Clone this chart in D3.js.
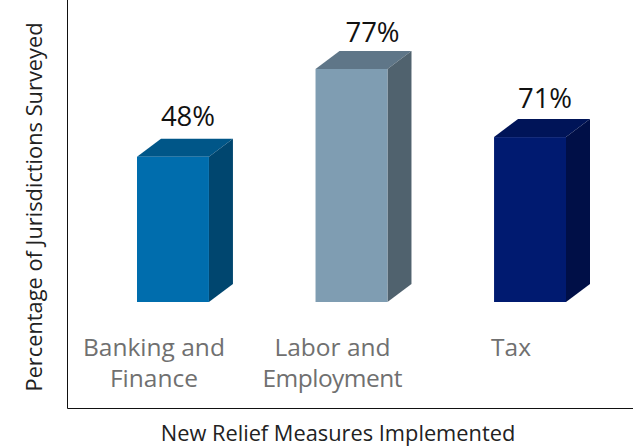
<!DOCTYPE html>
<html>
<head>
<meta charset="utf-8">
<script src="https://cdn.jsdelivr.net/npm/d3@7/dist/d3.min.js"></script>
<style>
    html, body { margin: 0; padding: 0; background: #fff; }
    text { font-family: "Open Sans", "Noto Sans", sans-serif; }
</style>
</head>
<body>
<svg id="chart" width="633" height="448"></svg>
<script>
var categories = ['Banking and Finance', 'Labor and Employment', 'Tax'];
var categoryLines = [['Banking and', 'Finance'], ['Labor and', 'Employment'], ['Tax']];
var labels = ['48%', '77%', '71%'];
// the tax bar is drawn shorter than its 71% label in the picture, heights are as drawn
var heights = [48, 77, 54.5];
var frontColors = ['#006dad', '#7f9db2', '#001a70'];
var topColors = ['#005688', '#5f7688', '#001458'];
var sideColors = ['#00466f', '#50626e', '#000f47'];

var svg = d3.select('#chart');
var depthX = 24, depthY = 18;

var x = d3.scaleBand().domain(categories).range([137, 566]).paddingInner(0.597).paddingOuter(0);
var y = d3.scaleLinear().domain([0, 77]).range([302, 69]);

// axes
svg.append('path').attr('d', 'M67.5 0V408.5H633').attr('fill', 'none').attr('stroke', '#111').attr('stroke-width', 1);

var bars = svg.selectAll('.bar').data(categories).enter().append('g').attr('class', 'bar');

bars.append('path')
    .attr('d', function (d, i) {
        var x0 = x(d), x1 = x0 + x.bandwidth(), t = y(heights[i]);
        return 'M' + x0 + ' ' + t + 'L' + (x0 + depthX) + ' ' + (t - depthY) + 'L' + (x1 + depthX) + ' ' + (t - depthY) + 'L' + x1 + ' ' + t + 'Z';
    })
    .attr('fill', function (d, i) { return topColors[i]; });

bars.append('path')
    .attr('d', function (d, i) {
        var x1 = x(d) + x.bandwidth(), t = y(heights[i]);
        return 'M' + x1 + ' ' + t + 'L' + (x1 + depthX) + ' ' + (t - depthY) + 'L' + (x1 + depthX) + ' ' + (y(0) - depthY) + 'L' + x1 + ' ' + y(0) + 'Z';
    })
    .attr('fill', function (d, i) { return sideColors[i]; });

bars.append('rect')
    .attr('x', function (d) { return x(d); })
    .attr('y', function (d, i) { return y(heights[i]); })
    .attr('width', x.bandwidth())
    .attr('height', function (d, i) { return y(0) - y(heights[i]); })
    .attr('fill', function (d, i) { return frontColors[i]; });

// value labels sit over the top face, the middle one is further right and closer
bars.append('text')
    .attr('x', function (d, i) { return x(d) + x.bandwidth() / 2 + (i === 1 ? 21 : 15); })
    .attr('y', function (d, i) { return y(heights[i]) - depthY - (i === 0 ? 13 : i === 1 ? 9 : 11); })
    .attr('text-anchor', 'middle')
    .attr('font-size', 27.5)
    .attr('fill', '#111')
    .text(function (d, i) { return labels[i]; });

// category labels, hand placed left of the bars like the original
bars.append('text')
    .attr('text-anchor', 'middle')
    .attr('font-size', 24.5)
    .attr('fill', '#707070')
    .each(function (d, i) {
        var t = d3.select(this);
        categoryLines[i].forEach(function (line, k) {
            t.append('tspan')
                .attr('x', x(d) + x.bandwidth() / 2 - 19)
                .attr('y', 356 + k * 31)
                .attr('textLength', line === 'Employment' ? 140 : null)
                .text(line);
        });
    });

svg.append('text')
    .attr('x', 338).attr('y', 441)
    .attr('text-anchor', 'middle')
    .attr('font-size', 21.8)
    .attr('fill', '#222')
    .text('New Relief Measures Implemented');

svg.append('text')
    .attr('transform', 'translate(42,207) rotate(-90)')
    .attr('text-anchor', 'middle')
    .attr('font-size', 21.8)
    .attr('fill', '#222')
    .text('Percentage of Jurisdictions Surveyed');
</script>
</body>
</html>
